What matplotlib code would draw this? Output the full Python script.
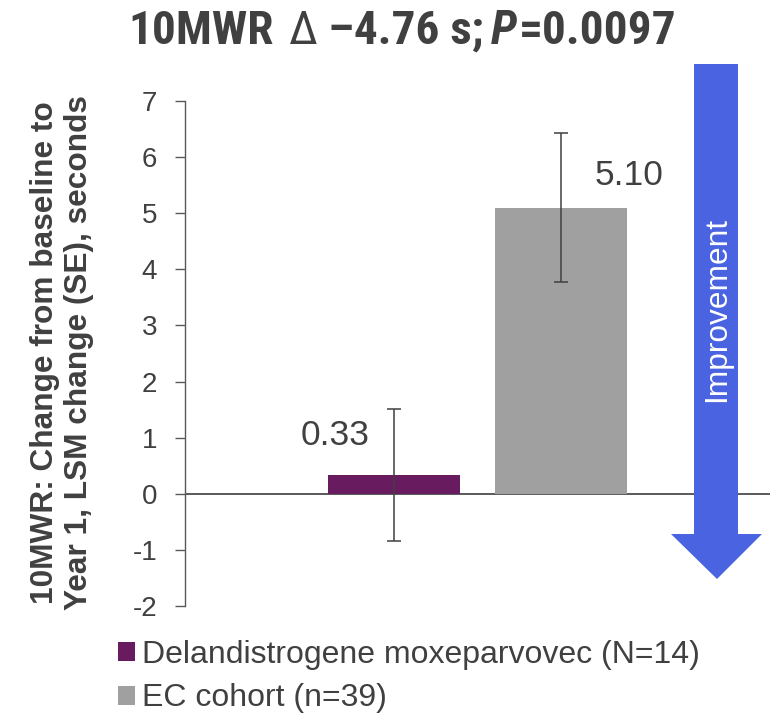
import matplotlib
matplotlib.use("Agg")
import matplotlib.pyplot as plt
from matplotlib import font_manager
from matplotlib.patches import Polygon, Patch

# ---- data -------------------------------------------------------------
groups = ["Delandistrogene moxeparvovec (N=14)", "EC cohort (n=39)"]
lsm_change = [0.33, 5.10]
se = [1.18, 1.33]
bar_colors = ["#681b5e", "#a0a0a0"]
yticks = [-2, -1, 0, 1, 2, 3, 4, 5, 6, 7]
title_parts = ["10MWR", "\u0394", "\u20134.76 s;", "P", "=0.0097"]
ylabel = "10MWR: Change from baseline to\nYear 1, LSM change (SE), seconds"
arrow_label = "Improvement"

# ---- style -----------------------------------------------------------
TEXT = "#404040"
LINE = "#595959"
BLUE = "#4a63e0"
installed = {f.name for f in font_manager.fontManager.ttflist}
BASE = "Liberation Sans" if "Liberation Sans" in installed else "DejaVu Sans"
NARROW = next((n for n in ["Liberation Sans Narrow", "Roboto Condensed",
                           "DejaVu Sans Condensed"] if n in installed), BASE)
plt.rcParams["font.family"] = [BASE, "DejaVu Sans"]

W, H, DPI = 781, 720, 100
fig = plt.figure(figsize=(W / DPI, H / DPI), dpi=DPI)


def fx(px):
    return px / W


def fy(py):
    return 1 - py / H


ax = fig.add_axes([fx(185), fy(606), fx(770) - fx(185), fy(101) - fy(606)])

x = list(range(len(groups)))
ax.bar(x, lsm_change, width=0.79, color=bar_colors, zorder=2)
ax.errorbar(x, lsm_change, yerr=se, fmt="none", ecolor=TEXT, elinewidth=1.1,
            capsize=4.8, capthick=1.1, zorder=3)
ax.axhline(0, color=LINE, lw=1.4, zorder=1)

ax.set_xlim(-1.2515, 2.2515)
ax.set_ylim(-2, 7)
ax.set_yticks(yticks)
ax.set_yticklabels([str(t) for t in yticks])
ax.set_xticks([])
for s in ["top", "right", "bottom"]:
    ax.spines[s].set_visible(False)
ax.spines["left"].set_color(LINE)
ax.spines["left"].set_linewidth(1.0)
ax.tick_params(axis="y", direction="out", length=7, width=1.0, color=LINE,
               labelsize=20, labelcolor=TEXT, pad=13)

# value labels beside each bar
label_offsets = [(-59, 30), (68, 23)]
for xi, v, (dx, dy) in zip(x, lsm_change, label_offsets):
    ax.annotate(f"{v:.2f}", xy=(xi, v), xytext=(dx, dy),
                textcoords="offset pixels", ha="center", va="baseline",
                fontsize=25.5, color=TEXT, zorder=4)

# y-axis label
fig.text(fx(62), fy(353), ylabel, rotation=90, ha="center", va="center",
         multialignment="center", fontsize=22.8, fontweight="bold",
         color=TEXT, linespacing=1.2)

# improvement arrow
arrow_px = [(694, 64), (738, 64), (738, 534), (762, 534), (717, 579),
            (671, 534), (694, 534)]
fig.patches.append(Polygon([(fx(a), fy(b)) for a, b in arrow_px],
                           closed=True, facecolor=BLUE, edgecolor="none",
                           transform=fig.transFigure, zorder=5))
fig.text(fx(717), fy(310), arrow_label, rotation=90, ha="center",
         va="center", fontsize=22.8, color="white", zorder=6)

# legend
handles = [Patch(facecolor=c, edgecolor="none") for c in bar_colors]
fig.legend(handles, groups, loc="upper left",
           bbox_to_anchor=(fx(118), fy(640)), frameon=False, fontsize=23,
           handlelength=0.53, handleheight=0.53, handletextpad=0.22,
           labelspacing=0.42, borderpad=0, borderaxespad=0,
           labelcolor=TEXT)

# title assembled from pieces so "P" can be italic
styles = [dict(fontweight="bold"), dict(fontweight="normal"),
          dict(fontweight="bold"), dict(fontweight="bold", fontstyle="italic"),
          dict(fontweight="bold")]
gaps = [15, 10, 8, 1]
texts = [fig.text(0, fy(44), p, ha="left", va="baseline", fontsize=34,
                  family=[NARROW, BASE, "DejaVu Sans"], color=TEXT, **st)
         for p, st in zip(title_parts, styles)]
fig.canvas.draw()
r = fig.canvas.get_renderer()
widths = [t.get_window_extent(r).width for t in texts]
total = sum(widths) + sum(gaps)
cur = 402 - total / 2
for t, w, g in zip(texts, widths, gaps + [0]):
    t.set_x(fx(cur))
    cur += w + g

fig.savefig("out.png", dpi=DPI)
